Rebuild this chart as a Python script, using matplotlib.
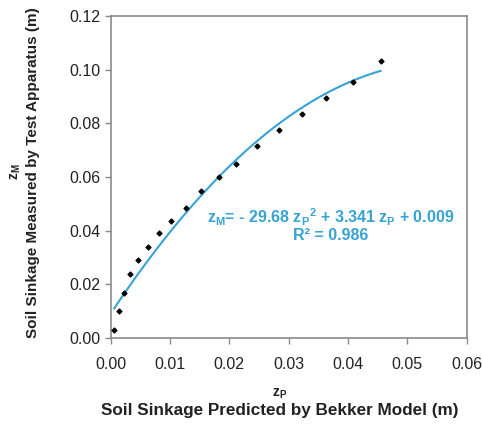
"""
Soil sinkage: measured vs. predicted by Bekker model, with quadratic fit.
"""

import numpy as np
import matplotlib
matplotlib.use("Agg")
import matplotlib.pyplot as plt

plt.rcParams["font.family"] = ["Liberation Sans", "DejaVu Sans"]
plt.rcParams["mathtext.fontset"] = "custom"
plt.rcParams["mathtext.rm"] = "Liberation Sans"
plt.rcParams["mathtext.it"] = "Liberation Sans"
plt.rcParams["mathtext.bf"] = "Liberation Sans:bold"

# --- Datos ---
z_pred = [0.0006, 0.0014, 0.0022, 0.0033, 0.0047, 0.0063, 0.0081, 0.0102, 0.0127,
          0.0153, 0.0183, 0.0212, 0.0247, 0.0283, 0.0322, 0.0363, 0.0408, 0.0455]
z_meas = [0.0030, 0.0101, 0.0169, 0.0240, 0.0292, 0.0339, 0.0390, 0.0435, 0.0485,
          0.0547, 0.0599, 0.0649, 0.0715, 0.0775, 0.0836, 0.0895, 0.0954, 0.1033]
fit_coef = [-29.68, 3.341, 0.009]
x_ticks = [0.00, 0.01, 0.02, 0.03, 0.04, 0.05, 0.06]
y_ticks = [0.00, 0.02, 0.04, 0.06, 0.08, 0.10, 0.12]

BLUE = "#35a3d3"
GRAY = "#8a8a8a"

fig = plt.figure(figsize=(4.83, 4.25), dpi=100)
ax = fig.add_axes([0.229, 0.205, 0.737, 0.757])

ax.scatter(z_pred, z_meas, marker="D", s=6, color="black", zorder=3)

xf = np.linspace(min(z_pred), max(z_pred), 100)
ax.plot(xf, np.polyval(fit_coef, xf), color=BLUE, lw=1.5, zorder=2)

ax.set_xlim(0, 0.06)
ax.set_ylim(0, 0.12)
ax.set_xticks(x_ticks)
ax.set_yticks(y_ticks)
ax.set_xticklabels([f"{v:.2f}" for v in x_ticks])
ax.set_yticklabels([f"{v:.2f}" for v in y_ticks])
ax.tick_params(labelsize=11.5, colors=GRAY, labelcolor="#222222", length=4, width=1)
ax.tick_params(axis="x", pad=10)

for sp in ax.spines.values():
    sp.set_color(GRAY)
    sp.set_linewidth(1.2)

eq = (r"$\mathbf{z_M}$= - 29.68 $\mathbf{z_P}^\mathbf{2}$ + 3.341 $\mathbf{z_P}$ + 0.009"
      "\nR² = 0.986")
ax.text(0.0371, 0.0423, eq, color=BLUE, fontsize=11.5, fontweight="bold",
        ha="center", va="center", multialignment="center", linespacing=1.0)

# etiquetas de ejes
fig.text(0.579, 0.073, r"$\mathbf{z_P}$", fontsize=10, ha="center", va="center", color="#222222")
fig.text(0.579, 0.035, "Soil Sinkage Predicted by Bekker Model (m)", fontsize=12.3,
         fontweight="bold", ha="center", va="center", color="#222222")
fig.text(0.033, 0.595, r"$\mathbf{z_M}$", fontsize=10, rotation=90, ha="center",
         va="center", color="#222222")
fig.text(0.068, 0.595, "Soil Sinkage Measured by Test Apparatus (m)", fontsize=11,
         fontweight="bold", rotation=90, ha="center", va="center", color="#222222")

fig.savefig("out.png", dpi=100)
